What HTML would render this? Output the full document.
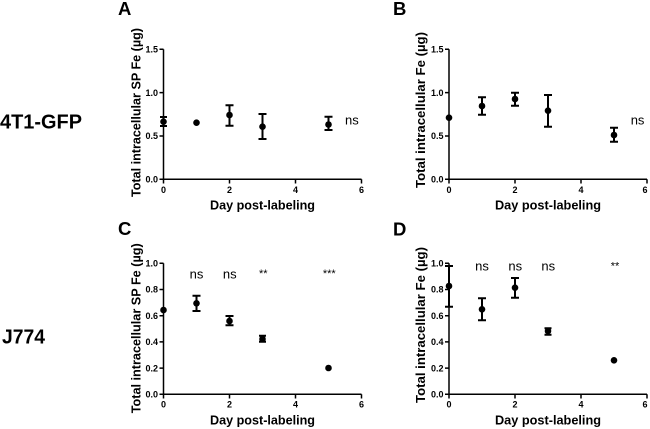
<!DOCTYPE html>
<html>
<head>
<meta charset="utf-8">
<style>
  html,body{margin:0;padding:0;background:#fff;}
  svg{display:block;}
  text{font-family:"Liberation Sans",Arial,sans-serif;fill:#000;}
  .tk{font-size:9px;font-weight:bold;}
  .tt{font-size:12.7px;font-weight:bold;}
  .lt{font-size:18.5px;font-weight:bold;}
  .rl{font-size:20.5px;font-weight:bold;}
  .ns{font-size:13px;}
  .st{font-size:11px;}
  .ax{stroke:#000;stroke-width:1.5;fill:none;}
  .eb{stroke:#000;stroke-width:2;fill:none;}
</style>
</head>
<body>
<svg width="650" height="429" viewBox="0 0 650 429" xmlns="http://www.w3.org/2000/svg">
<rect width="650" height="429" fill="#fff"/>

<!-- Row labels -->
<text class="rl" x="0" y="128.3" textLength="82" lengthAdjust="spacingAndGlyphs">4T1-GFP</text>
<text class="rl" x="2" y="343.3" textLength="43" lengthAdjust="spacingAndGlyphs">J774</text>

<!-- Panel letters -->
<text class="lt" x="118" y="15">A</text>
<text class="lt" x="393" y="15">B</text>
<text class="lt" x="118" y="235">C</text>
<text class="lt" x="393" y="235.5">D</text>

<!-- ============ Panel A ============ -->
<g>
  <path class="ax" d="M163.5,49.3 V179.3 H361.5"/>
  <path class="ax" d="M159.5,49.3 H163.5 M159.5,92.6 H163.5 M159.5,136 H163.5 M159.5,179.3 H163.5"/>
  <path class="ax" d="M163.5,179.3 V183.5 M229.5,179.3 V183.5 M295.5,179.3 V183.5 M361.5,179.3 V183.5"/>
  <text class="tk" x="158" y="52.5" text-anchor="end">1.5</text>
  <text class="tk" x="158" y="95.8" text-anchor="end">1.0</text>
  <text class="tk" x="158" y="139.2" text-anchor="end">0.5</text>
  <text class="tk" x="158" y="182.5" text-anchor="end">0.0</text>
  <text class="tk" x="163.5" y="193" text-anchor="middle">0</text>
  <text class="tk" x="229.5" y="193" text-anchor="middle">2</text>
  <text class="tk" x="295.5" y="193" text-anchor="middle">4</text>
  <text class="tk" x="361.5" y="193" text-anchor="middle">6</text>
  <text class="tt" x="262.5" y="209.5" text-anchor="middle" textLength="105" lengthAdjust="spacingAndGlyphs">Day post-labeling</text>
  <text class="tt" transform="translate(140.5,112.5) rotate(-90)" text-anchor="middle" textLength="169" lengthAdjust="spacingAndGlyphs">Total intracellular SP Fe (µg)</text>
  <!-- data -->
  <path class="eb" d="M163.5,117 V126 M160,117 H167 M160,126 H167"/>
  <circle cx="163.5" cy="121.7" r="3.3"/>
  <circle cx="196.5" cy="122.7" r="3.3"/>
  <path class="eb" d="M229.5,105.3 V125.7 M225.5,105.3 H233.5 M225.5,125.7 H233.5"/>
  <circle cx="229.5" cy="115" r="3.3"/>
  <path class="eb" d="M262.5,114 V139 M258.5,114 H266.5 M258.5,139 H266.5"/>
  <circle cx="262.5" cy="126.7" r="3.3"/>
  <path class="eb" d="M328.5,116.7 V130 M324.5,116.7 H332.5 M324.5,130 H332.5"/>
  <circle cx="328.5" cy="124.5" r="3.3"/>
  <text class="ns" x="345" y="124.3">ns</text>
</g>

<!-- ============ Panel B ============ -->
<g>
  <path class="ax" d="M449,49.3 V179.3 H647"/>
  <path class="ax" d="M445,49.3 H449 M445,92.6 H449 M445,136 H449 M445,179.3 H449"/>
  <path class="ax" d="M449,179.3 V183.5 M515,179.3 V183.5 M581,179.3 V183.5 M647,179.3 V183.5"/>
  <text class="tk" x="443.5" y="52.5" text-anchor="end">1.5</text>
  <text class="tk" x="443.5" y="95.8" text-anchor="end">1.0</text>
  <text class="tk" x="443.5" y="139.2" text-anchor="end">0.5</text>
  <text class="tk" x="443.5" y="182.5" text-anchor="end">0.0</text>
  <text class="tk" x="449" y="193" text-anchor="middle">0</text>
  <text class="tk" x="515" y="193" text-anchor="middle">2</text>
  <text class="tk" x="581" y="193" text-anchor="middle">4</text>
  <text class="tk" x="645" y="193" text-anchor="middle">6</text>
  <text class="tt" x="548" y="209.5" text-anchor="middle" textLength="106" lengthAdjust="spacingAndGlyphs">Day post-labeling</text>
  <text class="tt" transform="translate(425,110) rotate(-90)" text-anchor="middle" textLength="156" lengthAdjust="spacingAndGlyphs">Total intracellular Fe (µg)</text>
  <circle cx="449" cy="117.7" r="3.3"/>
  <path class="eb" d="M482,97.3 V114.7 M478,97.3 H486 M478,114.7 H486"/>
  <circle cx="482" cy="106" r="3.3"/>
  <path class="eb" d="M515,92.7 V105.7 M511,92.7 H519 M511,105.7 H519"/>
  <circle cx="515" cy="99" r="3.3"/>
  <path class="eb" d="M548,95 V126.7 M544,95 H552 M544,126.7 H552"/>
  <circle cx="548" cy="110.7" r="3.3"/>
  <path class="eb" d="M614,127.7 V141.7 M610,127.7 H618 M610,141.7 H618"/>
  <circle cx="614" cy="135" r="3.3"/>
  <text class="ns" x="630.7" y="124.3">ns</text>
</g>

<!-- ============ Panel C ============ -->
<g>
  <path class="ax" d="M163.5,263.3 V394.3 H361.5"/>
  <path class="ax" d="M159.5,263.3 H163.5 M159.5,289.5 H163.5 M159.5,315.7 H163.5 M159.5,341.9 H163.5 M159.5,368.1 H163.5 M159.5,394.3 H163.5"/>
  <path class="ax" d="M163.5,394.3 V398.5 M229.5,394.3 V398.5 M295.5,394.3 V398.5 M361.5,394.3 V398.5"/>
  <text class="tk" x="158" y="266.5" text-anchor="end">1.0</text>
  <text class="tk" x="158" y="292.7" text-anchor="end">0.8</text>
  <text class="tk" x="158" y="318.9" text-anchor="end">0.6</text>
  <text class="tk" x="158" y="345.1" text-anchor="end">0.4</text>
  <text class="tk" x="158" y="371.3" text-anchor="end">0.2</text>
  <text class="tk" x="158" y="397.5" text-anchor="end">0.0</text>
  <text class="tk" x="163.5" y="407.5" text-anchor="middle">0</text>
  <text class="tk" x="229.5" y="407.5" text-anchor="middle">2</text>
  <text class="tk" x="295.5" y="407.5" text-anchor="middle">4</text>
  <text class="tk" x="361.5" y="407.5" text-anchor="middle">6</text>
  <text class="tt" x="262.5" y="424.5" text-anchor="middle" textLength="105" lengthAdjust="spacingAndGlyphs">Day post-labeling</text>
  <text class="tt" transform="translate(140.5,328.3) rotate(-90)" text-anchor="middle" textLength="170" lengthAdjust="spacingAndGlyphs">Total intracellular SP Fe (µg)</text>
  <circle cx="163.5" cy="310" r="3.3"/>
  <path class="eb" d="M196.5,295.7 V311 M192.5,295.7 H200.5 M192.5,311 H200.5"/>
  <circle cx="196.5" cy="303.3" r="3.3"/>
  <path class="eb" d="M229.5,316 V325.3 M225.5,316 H233.5 M225.5,325.3 H233.5"/>
  <circle cx="229.5" cy="321" r="3.3"/>
  <path class="eb" d="M262.5,335.7 V341.7 M259,335.7 H266 M259,341.7 H266"/>
  <circle cx="262.5" cy="339" r="3.3"/>
  <circle cx="328.5" cy="368" r="3.3"/>
  <text class="ns" x="196.5" y="278.3" text-anchor="middle">ns</text>
  <text class="ns" x="229.8" y="278.3" text-anchor="middle">ns</text>
  <text class="st" x="263.3" y="277" text-anchor="middle">**</text>
  <text class="st" x="329.3" y="277" text-anchor="middle">***</text>
</g>

<!-- ============ Panel D ============ -->
<g>
  <path class="ax" d="M449,263.3 V394.3 H647"/>
  <path class="ax" d="M445,263.3 H449 M445,289.5 H449 M445,315.7 H449 M445,341.9 H449 M445,368.1 H449 M445,394.3 H449"/>
  <path class="ax" d="M449,394.3 V398.5 M515,394.3 V398.5 M581,394.3 V398.5 M647,394.3 V398.5"/>
  <text class="tk" x="443.5" y="266.5" text-anchor="end">1.0</text>
  <text class="tk" x="443.5" y="292.7" text-anchor="end">0.8</text>
  <text class="tk" x="443.5" y="318.9" text-anchor="end">0.6</text>
  <text class="tk" x="443.5" y="345.1" text-anchor="end">0.4</text>
  <text class="tk" x="443.5" y="371.3" text-anchor="end">0.2</text>
  <text class="tk" x="443.5" y="397.5" text-anchor="end">0.0</text>
  <text class="tk" x="449" y="407.5" text-anchor="middle">0</text>
  <text class="tk" x="515" y="407.5" text-anchor="middle">2</text>
  <text class="tk" x="581" y="407.5" text-anchor="middle">4</text>
  <text class="tk" x="645" y="407.5" text-anchor="middle">6</text>
  <text class="tt" x="548" y="424.5" text-anchor="middle" textLength="106" lengthAdjust="spacingAndGlyphs">Day post-labeling</text>
  <text class="tt" transform="translate(425,325) rotate(-90)" text-anchor="middle" textLength="156" lengthAdjust="spacingAndGlyphs">Total intracellular Fe (µg)</text>
  <path class="eb" d="M449,266 V306.7 M445,266 H453 M445,306.7 H453"/>
  <circle cx="449" cy="286" r="3.3"/>
  <path class="eb" d="M482,298.3 V320.3 M478,298.3 H486 M478,320.3 H486"/>
  <circle cx="482" cy="309.3" r="3.3"/>
  <path class="eb" d="M515,278 V297.7 M511,278 H519 M511,297.7 H519"/>
  <circle cx="515" cy="287.7" r="3.3"/>
  <path class="eb" d="M548,328.3 V334.7 M544.5,328.3 H551.5 M544.5,334.7 H551.5"/>
  <circle cx="548" cy="331" r="3.3"/>
  <circle cx="614" cy="360.3" r="3.3"/>
  <text class="ns" x="482" y="270.3" text-anchor="middle">ns</text>
  <text class="ns" x="515.3" y="270.3" text-anchor="middle">ns</text>
  <text class="ns" x="548.3" y="270.3" text-anchor="middle">ns</text>
  <text class="st" x="615" y="269.5" text-anchor="middle">**</text>
</g>
</svg>
</body>
</html>
